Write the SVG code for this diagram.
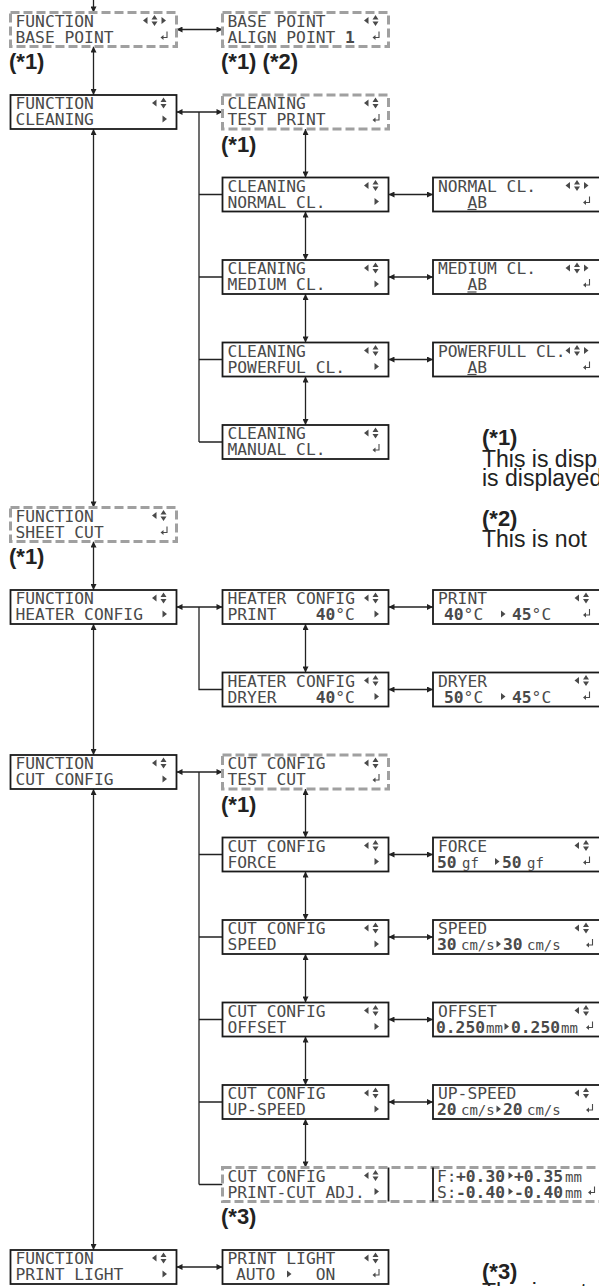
<svg xmlns="http://www.w3.org/2000/svg" width="599" height="1286" viewBox="0 0 599 1286">
<style>
.lcd{font-family:"DejaVu Sans Mono","Liberation Mono",monospace;font-size:16.3px;fill:#4a4a4a;}
.b{font-weight:bold;}
.u{font-size:14px;}
.box{fill:#fff;stroke:#1a1a1a;stroke-width:1.8;}
.dbox{fill:#fff;stroke:#a0a0a0;stroke-width:3;stroke-dasharray:9 4;}
.sl{stroke:#1a1a1a;stroke-width:1.8;fill:none;}
.ln{stroke:#222;stroke-width:1.3;fill:none;}
.a2{marker-start:url(#ah);marker-end:url(#ah);}
.a1{marker-end:url(#ah);}
.lbl{font-family:"Liberation Sans",Arial,sans-serif;font-weight:bold;font-size:22px;fill:#222;}
.note{font-family:"Liberation Sans",Arial,sans-serif;font-size:23px;fill:#222;}
.ic{fill:#4a4a4a;}
</style>
<defs>
<marker id="ah" viewBox="0 0 10 10" refX="10" refY="5" markerWidth="8" markerHeight="6" markerUnits="userSpaceOnUse" orient="auto-start-reverse"><path d="M0,0L10,5L0,10z" fill="#222"/></marker>
<path id="il" class="ic" d="M2,-3.5V3.5L-2.5,0Z"/>
<path id="ir" class="ic" d="M-2,-3.5V3.5L2.5,0Z"/>
<path id="iud" class="ic" d="M-3,-1H3L0,-5.5ZM-3,1H3L0,5.5Z"/>
<g id="iret"><path d="M2.5,-5V1H-1.5" fill="none" stroke="#4a4a4a" stroke-width="1.1"/><path class="ic" d="M-4,1L-1,-1.5V3.5Z"/></g>
</defs>

<g id="connectors">
<line class="ln a1" x1="93.5" y1="-2" x2="93.5" y2="12.5"/>
<line class="ln a2" x1="93.5" y1="46.5" x2="93.5" y2="95"/>
<line class="ln a2" x1="93.5" y1="129" x2="93.5" y2="507.5"/>
<line class="ln a2" x1="93.5" y1="541.5" x2="93.5" y2="590"/>
<line class="ln a2" x1="93.5" y1="624" x2="93.5" y2="755"/>
<line class="ln a2" x1="93.5" y1="789" x2="93.5" y2="1250"/>
<line class="ln a2" x1="176.5" y1="29.5" x2="222.5" y2="29.5"/>
<line class="ln a2" x1="176.5" y1="112" x2="222.5" y2="112"/>
<path class="ln" d="M199,112V442M199,194.5H222.5M199,277H222.5M199,359.5H222.5M199,442H222.5"/>
<line class="ln a2" x1="305.5" y1="129" x2="305.5" y2="177.5"/>
<line class="ln a2" x1="305.5" y1="211.5" x2="305.5" y2="260"/>
<line class="ln a2" x1="305.5" y1="294" x2="305.5" y2="342.5"/>
<line class="ln a2" x1="305.5" y1="376.5" x2="305.5" y2="425"/>
<line class="ln a2" x1="388.5" y1="194.5" x2="433" y2="194.5"/>
<line class="ln a2" x1="388.5" y1="277" x2="433" y2="277"/>
<line class="ln a2" x1="388.5" y1="359.5" x2="433" y2="359.5"/>
<line class="ln a2" x1="176.5" y1="607" x2="222.5" y2="607"/>
<path class="ln" d="M199,607V689.5H222.5"/>
<line class="ln a2" x1="305.5" y1="624" x2="305.5" y2="672.5"/>
<line class="ln a2" x1="388.5" y1="607" x2="433" y2="607"/>
<line class="ln a2" x1="388.5" y1="689.5" x2="433" y2="689.5"/>
<line class="ln a2" x1="176.5" y1="772" x2="222.5" y2="772"/>
<path class="ln" d="M199,772V1184.5M199,854.5H222.5M199,937H222.5M199,1019.5H222.5M199,1102H222.5M199,1184.5H222.5"/>
<line class="ln a2" x1="305.5" y1="789" x2="305.5" y2="837.5"/>
<line class="ln a2" x1="305.5" y1="871.5" x2="305.5" y2="920"/>
<line class="ln a2" x1="305.5" y1="954" x2="305.5" y2="1002.5"/>
<line class="ln a2" x1="305.5" y1="1036.5" x2="305.5" y2="1085"/>
<line class="ln a2" x1="305.5" y1="1119" x2="305.5" y2="1167.5"/>
<line class="ln a2" x1="388.5" y1="854.5" x2="433" y2="854.5"/>
<line class="ln a2" x1="388.5" y1="937" x2="433" y2="937"/>
<line class="ln a2" x1="388.5" y1="1019.5" x2="433" y2="1019.5"/>
<line class="ln a2" x1="388.5" y1="1102" x2="433" y2="1102"/>
<line class="ln a2" x1="388.5" y1="1184.5" x2="433" y2="1184.5"/>
<line class="ln a2" x1="176.5" y1="1267" x2="222.5" y2="1267"/>
</g>

<!-- left column -->
<g id="n-l0">
<rect class="dbox" x="10.5" y="12.5" width="166" height="34"/>
<text class="lcd" x="15.5" y="26.5">FUNCTION</text><text class="lcd" x="15.5" y="42.5">BASE POINT</text>
<use href="#il" x="145.5" y="20.5"/><use href="#iud" x="154.5" y="20.5"/><use href="#ir" x="163.5" y="20.5"/><use href="#iret" x="164.5" y="36.5"/>
</g>
<g id="n-l1">
<rect class="box" x="10.5" y="95" width="166" height="34"/>
<text class="lcd" x="15.5" y="109">FUNCTION</text><text class="lcd" x="15.5" y="125">CLEANING</text>
<use href="#il" x="154.5" y="103"/><use href="#iud" x="163.5" y="103"/><use href="#ir" x="164.5" y="119"/>
</g>
<g id="n-l6">
<rect class="dbox" x="10.5" y="507.5" width="166" height="34"/>
<text class="lcd" x="15.5" y="521.5">FUNCTION</text><text class="lcd" x="15.5" y="537.5">SHEET CUT</text>
<use href="#il" x="154.5" y="515.5"/><use href="#iud" x="163.5" y="515.5"/><use href="#iret" x="164.5" y="531.5"/>
</g>
<g id="n-l7">
<rect class="box" x="10.5" y="590" width="166" height="34"/>
<text class="lcd" x="15.5" y="604">FUNCTION</text><text class="lcd" x="15.5" y="620">HEATER CONFIG</text>
<use href="#il" x="154.5" y="598"/><use href="#iud" x="163.5" y="598"/><use href="#ir" x="164.5" y="614"/>
</g>
<g id="n-l9">
<rect class="box" x="10.5" y="755" width="166" height="34"/>
<text class="lcd" x="15.5" y="769">FUNCTION</text><text class="lcd" x="15.5" y="785">CUT CONFIG</text>
<use href="#il" x="154.5" y="763"/><use href="#iud" x="163.5" y="763"/><use href="#ir" x="164.5" y="779"/>
</g>
<g id="n-l15">
<rect class="box" x="10.5" y="1250" width="166" height="34"/>
<text class="lcd" x="15.5" y="1264">FUNCTION</text><text class="lcd" x="15.5" y="1280">PRINT LIGHT</text>
<use href="#il" x="154.5" y="1258"/><use href="#iud" x="163.5" y="1258"/><use href="#ir" x="164.5" y="1274"/>
</g>

<!-- middle column -->
<g id="n-m0">
<rect class="dbox" x="222.5" y="12.5" width="166" height="34"/>
<text class="lcd" x="227.5" y="26.5">BASE POINT</text><text class="lcd" x="227.5" y="42.5">ALIGN POINT <tspan class="b" x="345.1">1</tspan></text>
<use href="#il" x="366.5" y="20.5"/><use href="#iud" x="375.5" y="20.5"/><use href="#iret" x="376.5" y="36.5"/>
</g>
<g id="n-m1">
<rect class="dbox" x="222.5" y="95" width="166" height="34"/>
<text class="lcd" x="227.5" y="109">CLEANING</text><text class="lcd" x="227.5" y="125">TEST PRINT</text>
<use href="#il" x="366.5" y="103"/><use href="#iud" x="375.5" y="103"/><use href="#iret" x="376.5" y="119"/>
</g>
<g id="n-m2">
<rect class="box" x="222.5" y="177.5" width="166" height="34"/>
<text class="lcd" x="227.5" y="191.5">CLEANING</text><text class="lcd" x="227.5" y="207.5">NORMAL CL.</text>
<use href="#il" x="366.5" y="185.5"/><use href="#iud" x="375.5" y="185.5"/><use href="#ir" x="376.5" y="201.5"/>
</g>
<g id="n-m3">
<rect class="box" x="222.5" y="260" width="166" height="34"/>
<text class="lcd" x="227.5" y="274">CLEANING</text><text class="lcd" x="227.5" y="290">MEDIUM CL.</text>
<use href="#il" x="366.5" y="268"/><use href="#iud" x="375.5" y="268"/><use href="#ir" x="376.5" y="284"/>
</g>
<g id="n-m4">
<rect class="box" x="222.5" y="342.5" width="166" height="34"/>
<text class="lcd" x="227.5" y="356.5">CLEANING</text><text class="lcd" x="227.5" y="372.5">POWERFUL CL.</text>
<use href="#il" x="366.5" y="350.5"/><use href="#iud" x="375.5" y="350.5"/><use href="#ir" x="376.5" y="366.5"/>
</g>
<g id="n-m5">
<rect class="box" x="222.5" y="425" width="166" height="34"/>
<text class="lcd" x="227.5" y="439">CLEANING</text><text class="lcd" x="227.5" y="455">MANUAL CL.</text>
<use href="#il" x="366.5" y="433"/><use href="#iud" x="375.5" y="433"/><use href="#iret" x="376.5" y="449"/>
</g>
<g id="n-m7">
<rect class="box" x="222.5" y="590" width="166" height="34"/>
<text class="lcd" x="227.5" y="604">HEATER CONFIG</text><text class="lcd" x="227.5" y="620">PRINT<tspan class="b" x="315.7">40</tspan><tspan x="335.3">°C</tspan></text>
<use href="#il" x="366.5" y="598"/><use href="#iud" x="375.5" y="598"/><use href="#ir" x="376.5" y="614"/>
</g>
<g id="n-m8">
<rect class="box" x="222.5" y="672.5" width="166" height="34"/>
<text class="lcd" x="227.5" y="686.5">HEATER CONFIG</text><text class="lcd" x="227.5" y="702.5">DRYER<tspan class="b" x="315.7">40</tspan><tspan x="335.3">°C</tspan></text>
<use href="#il" x="366.5" y="680.5"/><use href="#iud" x="375.5" y="680.5"/><use href="#ir" x="376.5" y="696.5"/>
</g>
<g id="n-m9">
<rect class="dbox" x="222.5" y="755" width="166" height="34"/>
<text class="lcd" x="227.5" y="769">CUT CONFIG</text><text class="lcd" x="227.5" y="785">TEST CUT</text>
<use href="#il" x="366.5" y="763"/><use href="#iud" x="375.5" y="763"/><use href="#iret" x="376.5" y="779"/>
</g>
<g id="n-m10">
<rect class="box" x="222.5" y="837.5" width="166" height="34"/>
<text class="lcd" x="227.5" y="851.5">CUT CONFIG</text><text class="lcd" x="227.5" y="867.5">FORCE</text>
<use href="#il" x="366.5" y="845.5"/><use href="#iud" x="375.5" y="845.5"/><use href="#ir" x="376.5" y="861.5"/>
</g>
<g id="n-m11">
<rect class="box" x="222.5" y="920" width="166" height="34"/>
<text class="lcd" x="227.5" y="934">CUT CONFIG</text><text class="lcd" x="227.5" y="950">SPEED</text>
<use href="#il" x="366.5" y="928"/><use href="#iud" x="375.5" y="928"/><use href="#ir" x="376.5" y="944"/>
</g>
<g id="n-m12">
<rect class="box" x="222.5" y="1002.5" width="166" height="34"/>
<text class="lcd" x="227.5" y="1016.5">CUT CONFIG</text><text class="lcd" x="227.5" y="1032.5">OFFSET</text>
<use href="#il" x="366.5" y="1010.5"/><use href="#iud" x="375.5" y="1010.5"/><use href="#ir" x="376.5" y="1026.5"/>
</g>
<g id="n-m13">
<rect class="box" x="222.5" y="1085" width="166" height="34"/>
<text class="lcd" x="227.5" y="1099">CUT CONFIG</text><text class="lcd" x="227.5" y="1115">UP-SPEED</text>
<use href="#il" x="366.5" y="1093"/><use href="#iud" x="375.5" y="1093"/><use href="#ir" x="376.5" y="1109"/>
</g>
<g id="grp-printcut">
<rect class="dbox" x="222.5" y="1167.5" width="390" height="34"/>
</g>
<g id="n-m14">
<line class="sl" x1="388.5" y1="1167.5" x2="388.5" y2="1201.5"/>
<text class="lcd" x="227.5" y="1181.5">CUT CONFIG</text><text class="lcd" x="227.5" y="1197.5">PRINT-CUT ADJ.</text>
<use href="#il" x="366.5" y="1175.5"/><use href="#iud" x="375.5" y="1175.5"/><use href="#ir" x="376.5" y="1191.5"/>
</g>
<g id="n-m15">
<rect class="box" x="222.5" y="1250" width="166" height="34"/>
<text class="lcd" x="227.5" y="1264">PRINT LIGHT</text><text class="lcd" x="236" y="1280">AUTO<tspan x="315.7">ON</tspan></text>
<use href="#il" x="366.5" y="1258"/><use href="#iud" x="375.5" y="1258"/><use href="#ir" x="289" y="1274"/><use href="#iret" x="376.5" y="1274"/>
</g>

<!-- right column -->
<g id="n-r2">
<rect class="box" x="433" y="177.5" width="172" height="34"/>
<text class="lcd" x="438" y="191.5">NORMAL CL.</text><text class="lcd" x="467.4" y="207.5">AB</text>
<line x1="467.4" y1="209.5" x2="476.5" y2="209.5" stroke="#4a4a4a" stroke-width="1.2"/>
<use href="#il" x="568" y="185.5"/><use href="#iud" x="577" y="185.5"/><use href="#ir" x="586" y="185.5"/><use href="#iret" x="587" y="201.5"/>
</g>
<g id="n-r3">
<rect class="box" x="433" y="260" width="172" height="34"/>
<text class="lcd" x="438" y="274">MEDIUM CL.</text><text class="lcd" x="467.4" y="290">AB</text>
<line x1="467.4" y1="292" x2="476.5" y2="292" stroke="#4a4a4a" stroke-width="1.2"/>
<use href="#il" x="568" y="268"/><use href="#iud" x="577" y="268"/><use href="#ir" x="586" y="268"/><use href="#iret" x="587" y="284"/>
</g>
<g id="n-r4">
<rect class="box" x="433" y="342.5" width="172" height="34"/>
<text class="lcd" x="438" y="356.5">POWERFULL CL.</text><text class="lcd" x="467.4" y="372.5">AB</text>
<line x1="467.4" y1="374.5" x2="476.5" y2="374.5" stroke="#4a4a4a" stroke-width="1.2"/>
<use href="#il" x="568" y="350.5"/><use href="#iud" x="577" y="350.5"/><use href="#ir" x="586" y="350.5"/><use href="#iret" x="587" y="366.5"/>
</g>
<g id="n-r7">
<rect class="box" x="433" y="590" width="172" height="34"/>
<text class="lcd" x="438" y="604">PRINT</text><text class="lcd" y="620"><tspan class="b" x="444">40</tspan><tspan x="463.6">°C</tspan><tspan class="b" x="512">45</tspan><tspan x="531.6">°C</tspan></text>
<use href="#il" x="577" y="598"/><use href="#iud" x="586" y="598"/><use href="#ir" x="503" y="614"/><use href="#iret" x="587" y="614"/>
</g>
<g id="n-r8">
<rect class="box" x="433" y="672.5" width="172" height="34"/>
<text class="lcd" x="438" y="686.5">DRYER</text><text class="lcd" y="702.5"><tspan class="b" x="444">50</tspan><tspan x="463.6">°C</tspan><tspan class="b" x="512">45</tspan><tspan x="531.6">°C</tspan></text>
<use href="#il" x="577" y="680.5"/><use href="#iud" x="586" y="680.5"/><use href="#ir" x="503" y="696.5"/><use href="#iret" x="587" y="696.5"/>
</g>
<g id="n-r10">
<rect class="box" x="433" y="837.5" width="172" height="34"/>
<text class="lcd" x="438" y="851.5">FORCE</text><text class="lcd" y="867.5"><tspan class="b" x="437">50</tspan><tspan class="u" x="462">gf</tspan><tspan class="b" x="502">50</tspan><tspan class="u" x="527">gf</tspan></text>
<use href="#il" x="577" y="845.5"/><use href="#iud" x="586" y="845.5"/><use href="#ir" x="497" y="861.5"/><use href="#iret" x="587" y="861.5"/>
</g>
<g id="n-r11">
<rect class="box" x="433" y="920" width="172" height="34"/>
<text class="lcd" x="438" y="934">SPEED</text><text class="lcd" y="950"><tspan class="b" x="437">30</tspan><tspan class="u" x="461">cm/s</tspan><tspan class="b" x="503">30</tspan><tspan class="u" x="527">cm/s</tspan></text>
<use href="#il" x="577" y="928"/><use href="#iud" x="586" y="928"/><use href="#ir" x="498.5" y="944"/><use href="#iret" x="590" y="944"/>
</g>
<g id="n-r12">
<rect class="box" x="433" y="1002.5" width="172" height="34"/>
<text class="lcd" x="438" y="1016.5">OFFSET</text><text class="lcd" y="1032.5"><tspan class="b" x="436">0.250</tspan><tspan class="u" x="486">mm</tspan><tspan class="b" x="511">0.250</tspan><tspan class="u" x="561">mm</tspan></text>
<use href="#il" x="577" y="1010.5"/><use href="#iud" x="586" y="1010.5"/><use href="#ir" x="506.5" y="1026.5"/><use href="#iret" x="590" y="1026.5"/>
</g>
<g id="n-r13">
<rect class="box" x="433" y="1085" width="172" height="34"/>
<text class="lcd" x="438" y="1099">UP-SPEED</text><text class="lcd" y="1115"><tspan class="b" x="437">20</tspan><tspan class="u" x="461">cm/s</tspan><tspan class="b" x="503">20</tspan><tspan class="u" x="527">cm/s</tspan></text>
<use href="#il" x="577" y="1093"/><use href="#iud" x="586" y="1093"/><use href="#ir" x="498.5" y="1109"/><use href="#iret" x="590" y="1109"/>
</g>
<g id="n-r14">
<line class="sl" x1="433" y1="1167.5" x2="433" y2="1201.5"/>
<text class="lcd" y="1181.5"><tspan x="437">F:</tspan><tspan class="b" x="456">+0.30</tspan><tspan class="b" x="514">+0.35</tspan><tspan class="u" x="565">mm</tspan></text>
<text class="lcd" y="1197.5"><tspan x="437">S:</tspan><tspan class="b" x="456">-0.40</tspan><tspan class="b" x="514">-0.40</tspan><tspan class="u" x="565">mm</tspan></text>
<use href="#ir" x="510.5" y="1175.5"/><use href="#ir" x="510.5" y="1191.5"/><use href="#iret" x="592" y="1191.5"/>
</g>

<g id="labels">
<text class="lbl" x="9" y="69">(*1)</text>
<text class="lbl" x="221" y="69">(*1) (*2)</text>
<text class="lbl" x="221" y="152">(*1)</text>
<text class="lbl" x="9" y="564">(*1)</text>
<text class="lbl" x="221" y="812">(*1)</text>
<text class="lbl" x="221" y="1224">(*3)</text>
</g>
<g id="notes">
<text class="lbl" x="482" y="445">(*1)</text>
<text class="note" x="482" y="467">This is disp</text>
<text class="note" x="482" y="486">is displayed</text>
<text class="lbl" x="482" y="526">(*2)</text>
<text class="note" x="482" y="547">This is not</text>
<text class="lbl" x="482" y="1279">(*3)</text>
<text class="note" x="482" y="1300">This is not</text>
</g>
</svg>
